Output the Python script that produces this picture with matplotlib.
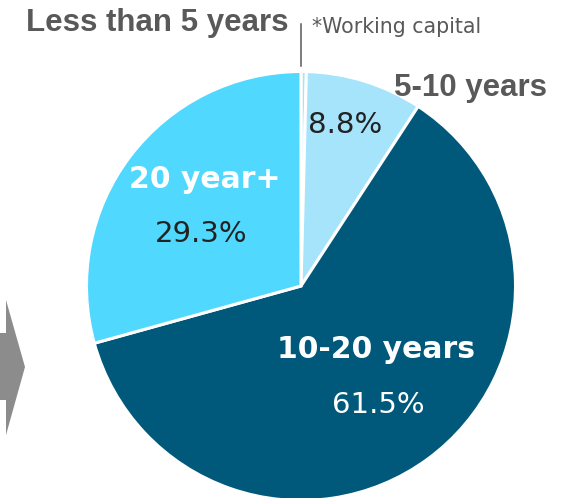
import matplotlib.pyplot as plt
from matplotlib.patches import Polygon

# maturity split of the loan book
labels = ["Less than 5 years", "5-10 years", "10-20 years", "20 year+"]
shares = [0.4, 8.8, 61.5, 29.3]
colors = ["#a6e4fc", "#a6e4fc", "#00587a", "#50d8fe"]

W, H = 566, 498


def py(y):
    # image-style y (from top) to axes y (from bottom)
    return H - y


fig = plt.figure(figsize=(W / 100, H / 100), dpi=100)
ax = fig.add_axes([0, 0, 1, 1])

ax.pie(shares, colors=colors, startangle=90, counterclock=False,
       center=(301, py(286)), radius=214.5,
       wedgeprops=dict(edgecolor="white", linewidth=2.2))
ax.set_xlim(0, W)
ax.set_ylim(0, H)
ax.set_aspect("equal")
ax.axis("off")

gray = "#595959"
dark = "#222222"
arial = "Liberation Sans"
verd = "DejaVu Sans"

# outside labels
ax.text(157, py(23), labels[0], ha="center", va="center", fontsize=22.5,
        fontweight="bold", color=gray, family=arial)
ax.plot([301, 301], [py(24), py(66)], color=gray, lw=1.1)
ax.text(312, py(27), "*Working capital", ha="left", va="center",
        fontsize=14.8, color=gray, family=verd)
ax.text(470, py(88), labels[1], ha="center", va="center", fontsize=22.5,
        fontweight="bold", color=gray, family=arial)

# labels inside the wedges
ax.text(345, py(125), f"{shares[1]}%", ha="center", va="center",
        fontsize=21, color=dark, family=verd)
ax.text(205, py(179), labels[3], ha="center", va="center", fontsize=21.5,
        fontweight="bold", color="white", family=verd)
ax.text(201, py(234), f"{shares[3]}%", ha="center", va="center",
        fontsize=21, color=dark, family=verd)
ax.text(376, py(349), labels[2], ha="center", va="center", fontsize=21.5,
        fontweight="bold", color="white", family=verd)
ax.text(378, py(405), f"{shares[2]}%", ha="center", va="center",
        fontsize=21, color="white", family=verd)

# gray arrow on the left edge
arrow = [(0, py(333)), (6, py(333)), (6, py(300)), (25, py(367)),
         (6, py(435)), (6, py(400)), (0, py(400))]
ax.add_patch(Polygon(arrow, closed=True, color="#8c8c8c", lw=0))

fig.savefig("out.png", dpi=100)
